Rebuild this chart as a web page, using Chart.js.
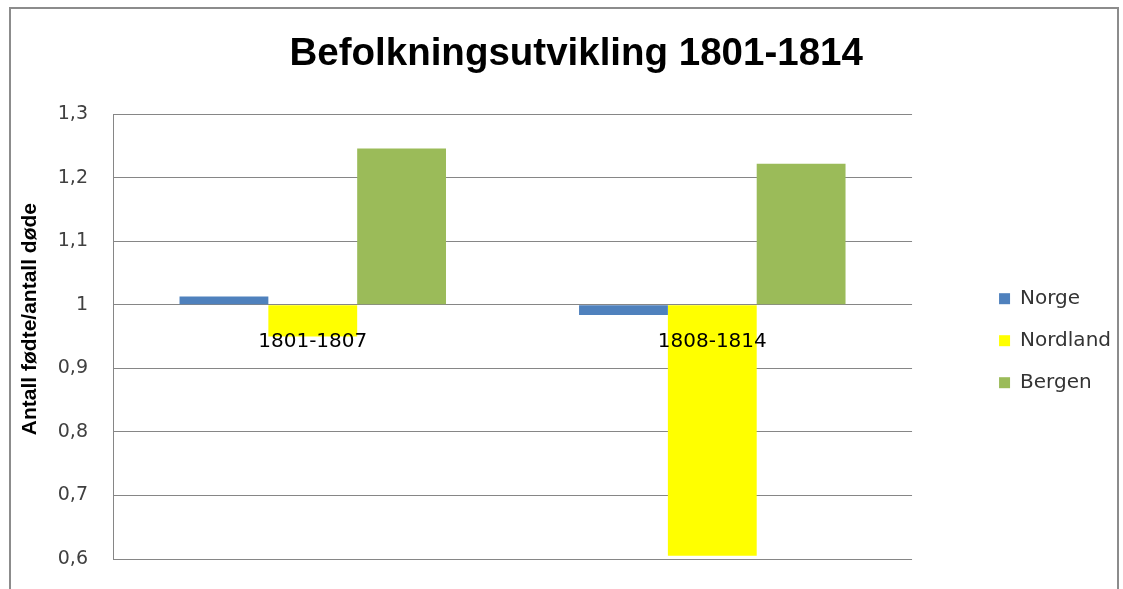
<!DOCTYPE html>
<html>
<head>
<meta charset="utf-8">
<script src="https://cdn.jsdelivr.net/npm/chart.js@4"></script>
<style>
  html, body { margin: 0; padding: 0; background: #fff; }
  #wrap { position: relative; width: 1123px; height: 589px; overflow: hidden; }
  #frame { position: absolute; left: 9px; top: 7px; width: 1106px; height: 620px; border: 2px solid #8c8c8c; }
  #chart { position: absolute; left: 0; top: 0; }
</style>
</head>
<body>
<div id="wrap">
  <div id="frame"></div>
  <canvas id="chart" width="1123" height="589"></canvas>
</div>
<script>
const periods = ["1801-1807", "1808-1814"];
const norge = [1.013, 0.984];
const nordland = [0.950, 0.605];
const bergen = [1.246, 1.222];
const yTicks = [0.6, 0.7, 0.8, 0.9, 1, 1.1, 1.2, 1.3];

const grid = "#868686";

const ctx = document.getElementById("chart");

const chart = new Chart(ctx, {
  type: "bar",
  data: {
    labels: periods,
    datasets: [
      { label: "Norge", data: norge, backgroundColor: "#4f81bd" },
      { label: "Nordland", data: nordland, backgroundColor: "#ffff00" },
      { label: "Bergen", data: bergen, backgroundColor: "#9bbb59" }
    ]
  },
  options: {
    responsive: false,
    animation: false,
    base: 1,
    categoryPercentage: 0.667,
    barPercentage: 1.0,
    layout: { padding: { left: 10, top: 8, right: 2, bottom: 30 } },
    plugins: {
      title: {
        display: true,
        // leading spaces nudge the centred title right, like the original
        text: "  Befolkningsutvikling 1801-1814",
        color: "#000",
        font: { family: "Liberation Sans", size: 38.5, weight: "bold" },
        padding: { top: 23, bottom: 37 }
      },
      legend: {
        position: "right",
        title: { display: true, text: " ", padding: { top: 100, bottom: 0 }, font: { size: 12 } },
        labels: {
          boxWidth: 11,
          boxHeight: 11,
          padding: 22,
          color: "#333",
          font: { family: "DejaVu Sans", size: 20 }
        }
      },
      tooltip: { enabled: false }
    },
    scales: {
      x: {
        // category axis crosses the value axis at 1, as in the original
        position: { y: 1 },
        afterFit: s => { s.height = 0; },
        grid: { display: false },
        border: { display: false },
        ticks: {
          z: 1,
          color: "#000",
          padding: 17,
          font: { family: "DejaVu Sans", size: 20 }
        }
      },
      y: {
        min: 0.6,
        max: 1.3,
        afterBuildTicks: s => { s.ticks = yTicks.map(v => ({ value: v })); },
        afterFit: s => { s.width = 103; s.paddingTop = 12; s.paddingBottom = 12; },
        grid: { color: grid, lineWidth: 1, drawTicks: false },
        border: { display: true, color: grid, width: 1 },
        ticks: {
          color: "#404040",
          padding: 25,
          font: { family: "DejaVu Sans", size: 19 },
          callback: v => String(Math.round(v * 10) / 10).replace(".", ",")
        },
        title: {
          display: true,
          text: "      Antall fødte/antall døde",
          color: "#000",
          padding: { top: 8, bottom: 0 },
          font: { family: "Liberation Sans", size: 21, weight: "bold" }
        }
      },
      y2: {
        position: "right",
        display: true,
        grid: { display: false },
        border: { display: false },
        ticks: { display: false },
        afterFit: s => { s.width = 65; }
      }
    }
  }
});
</script>
</body>
</html>
